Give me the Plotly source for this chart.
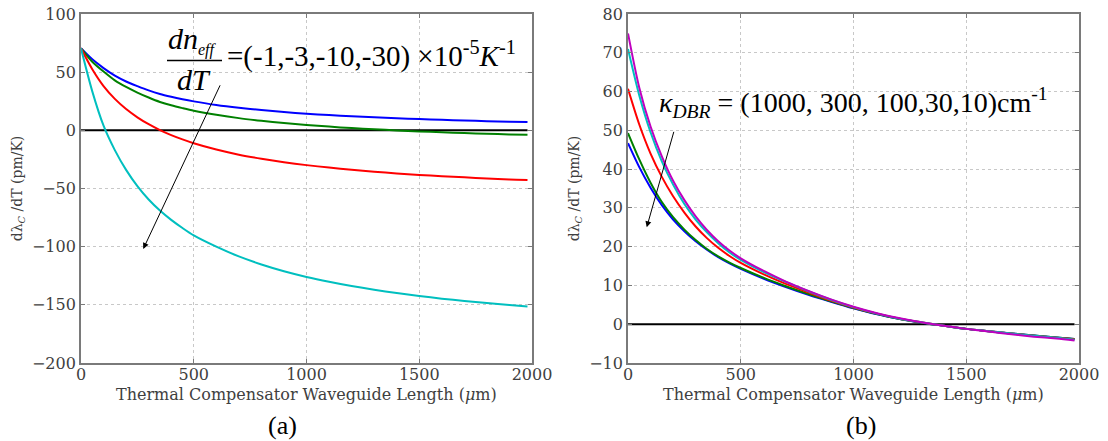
import plotly.graph_objects as go

# the page's default body margin is removed (see post_script), so figure pixels = window pixels
OFF = 0
W, H = 1108, 441

# ---------------- data: panel (a) ----------------
L_a = [0, 50, 100, 150, 200, 250, 300, 350, 400, 450, 500, 600, 700, 800, 900, 1000,
       1100, 1200, 1300, 1400, 1500, 1600, 1700, 1800, 1900, 1980]
a_blue = [70.5, 61, 53.5, 47, 42, 38, 34.3, 31.2, 28.8, 26.7, 24.9, 21.8, 19.4, 17.4, 15.75, 14.3,
          13.1, 12.1, 11.2, 10.4, 9.7, 9.0, 8.45, 7.9, 7.45, 7.1]
a_green = [70.5, 59, 50.5, 43, 37.3, 32.5, 28.2, 24.4, 21.5, 19.1, 16.9, 13.4, 10.5, 8.2, 6.2, 4.6,
           3.2, 1.9, 0.9, -0.07, -0.9, -1.7, -2.35, -2.95, -3.5, -3.9]
a_red = [70.5, 52.5, 38, 27, 18.3, 11.2, 5.25, 0.2, -4.1, -7.8, -11.1, -16.5, -20.9, -24.4, -27.4, -29.9,
         -32, -33.9, -35.5, -37, -38.3, -39.4, -40.4, -41.4, -42.2, -42.6]
a_cyan = [70.5, 33.5, 4, -17, -34, -48, -59.5, -69, -77, -84, -90.3, -100, -108.4, -115.3, -121.1, -126,
          -130.2, -133.9, -137.1, -139.9, -142.4, -144.7, -146.7, -148.5, -150.1, -151.4]

# ---------------- data: panel (b) ----------------
L_b = [0, 50, 100, 150, 200, 250, 300, 350, 400, 450, 500, 600, 700, 800, 900, 1000,
       1100, 1200, 1300, 1400, 1500, 1600, 1700, 1800, 1900, 1980]
b_blue = [46.7, 40.5, 35.2, 30.7, 27, 24, 21.4, 19.2, 17.3, 15.7, 14.3, 11.8, 9.6, 7.6, 5.8, 4.1,
          2.6, 1.4, 0.4, -0.4, -1.2, -1.8, -2.4, -2.9, -3.4, -3.8]
b_green = [49.3, 42.5, 36.5, 31.5, 27.6, 24.4, 21.7, 19.4, 17.5, 15.9, 14.5, 12.0, 9.8, 7.8, 5.9, 4.2,
           2.7, 1.4, 0.4, -0.4, -1.2, -1.8, -2.4, -2.9, -3.4, -3.8]
b_red = [60.7, 51.5, 44, 38, 33, 28.8, 25.2, 22.2, 19.7, 17.6, 15.8, 12.9, 10.4, 8.2, 6.1, 4.3,
         2.8, 1.5, 0.5, -0.4, -1.2, -1.8, -2.4, -3.0, -3.5, -3.9]
b_cyan = [71, 59, 49.5, 42, 36, 31, 27, 23.7, 20.9, 18.5, 16.6, 13.5, 10.9, 8.5, 6.3, 4.4,
          2.8, 1.5, 0.5, -0.4, -1.2, -1.8, -2.4, -3.0, -3.5, -4.0]
b_magenta = [75, 61, 51, 43.3, 37, 32, 27.8, 24.3, 21.4, 19, 17, 13.8, 11.0, 8.6, 6.4, 4.5,
             2.9, 1.6, 0.5, -0.4, -1.2, -1.9, -2.6, -3.2, -3.7, -4.2]

zero_x = [0, 1980]
zero_y = [0, 0]

x_ticks = [0, 500, 1000, 1500, 2000]
ya_ticks = [-200, -150, -100, -50, 0, 50, 100]
yb_ticks = [-10, 0, 10, 20, 30, 40, 50, 60, 70, 80]

# ---------------- figure ----------------
def px(x):
    return (x - OFF) / W

def py(y):
    return 1 - (y - OFF) / H

fig = go.Figure()

LW = 2
def add(xs, ys, color, xa, ya):
    fig.add_trace(go.Scatter(x=xs, y=ys, mode="lines", xaxis=xa, yaxis=ya,
                             line=dict(color=color, width=LW, shape="spline", smoothing=0.8),
                             showlegend=False, hoverinfo="skip"))

add(zero_x, zero_y, "black", "x", "y")
add(L_a, a_blue, "#0000ff", "x", "y")
add(L_a, a_green, "#008000", "x", "y")
add(L_a, a_red, "#ff0000", "x", "y")
add(L_a, a_cyan, "#00bfbf", "x", "y")

add(zero_x, zero_y, "black", "x2", "y2")
add(L_b, b_blue, "#0000ff", "x2", "y2")
add(L_b, b_green, "#008000", "x2", "y2")
add(L_b, b_red, "#ff0000", "x2", "y2")
add(L_b, b_cyan, "#00bfbf", "x2", "y2")
add(L_b, b_magenta, "#bf00bf", "x2", "y2")

TICKFAM = "DejaVu Serif, serif"
TXT = "#404040"
tick_font = dict(family=TICKFAM, size=16, color=TXT)
xtitle_font = dict(family=TICKFAM, size=16, color=TXT)
ytitle_font = dict(family=TICKFAM, size=14, color=TXT)
axis_common = dict(showline=True, linecolor="#7a7a7a", linewidth=1.8, mirror="allticks",
                   ticks="inside", ticklen=4, tickcolor="#7a7a7a", tickwidth=1,
                   showgrid=True, gridcolor="#c8c8c8", griddash="dot", gridwidth=1,
                   zeroline=False, tickfont=tick_font, automargin=False,
                   ticklabeloverflow="allow")

xtitle = "Thermal Compensator Waveguide Length (<i>μ</i>m)"
ytitle = "dλ<sub><i>C</i></sub> /dT (pm/K)"

fig.update_layout(
    width=W, height=H, autosize=False,
    margin=dict(l=0, r=0, t=0, b=0, pad=0),
    paper_bgcolor="white", plot_bgcolor="white",
    xaxis=dict(domain=[px(81), px(532)], range=[0, 2000], tickvals=x_ticks, anchor="y",
               ticklabelstandoff=-4, **axis_common),
    yaxis=dict(domain=[py(363), py(14)], range=[-200, 100], tickvals=ya_ticks, anchor="x",
               title=dict(text=ytitle, font=ytitle_font, standoff=6), **axis_common),
    xaxis2=dict(domain=[px(628), px(1079)], range=[0, 2000], tickvals=x_ticks, anchor="y2",
                ticklabelstandoff=-4, **axis_common),
    yaxis2=dict(domain=[py(363), py(14)], range=[-10, 80], tickvals=yb_ticks, anchor="x2",
                title=dict(text=ytitle, font=ytitle_font, standoff=6), **axis_common),
)

SERIF = "Liberation Serif, Times New Roman, serif"
ann = []
# x-axis titles
for cx in (306.5, 853.5):
    ann.append(dict(text=xtitle, x=px(cx), y=py(394), xref="paper", yref="paper", showarrow=False,
                    font=xtitle_font, xanchor="center", yanchor="middle"))
# panel labels
ann.append(dict(text="(a)", x=px(282), y=py(425), xref="paper", yref="paper", showarrow=False,
                font=dict(family=SERIF, size=26, color="black"), xanchor="center", yanchor="middle"))
ann.append(dict(text="(b)", x=px(861), y=py(425), xref="paper", yref="paper", showarrow=False,
                font=dict(family=SERIF, size=26, color="black"), xanchor="center", yanchor="middle"))

# panel (a) formula
ann.append(dict(text="<i>dn</i><sub><i><span style='font-size:16px'>eff</span></i></sub>",
                x=px(166), y=py(41), xref="paper", yref="paper",
                showarrow=False, font=dict(family=SERIF, size=30, color="black"),
                xanchor="left", yanchor="middle"))
ann.append(dict(text="<i>dT</i>", x=px(175), y=py(79), xref="paper", yref="paper",
                showarrow=False, font=dict(family=SERIF, size=30, color="black"),
                xanchor="left", yanchor="middle"))
ann.append(dict(text="=(-1,-3,-10,-30) ×10<sup>-5</sup><i>K</i><sup>-1</sup>", x=px(225), y=py(54),
                xref="paper", yref="paper", showarrow=False,
                font=dict(family=SERIF, size=29, color="black"), xanchor="left", yanchor="middle"))
# panel (b) formula
ann.append(dict(text="<i>κ</i><sub><i>DBR</i></sub> = (1000, 300, 100,30,10)cm<sup>-1</sup>",
                x=px(657), y=py(103), xref="paper", yref="paper", showarrow=False,
                font=dict(family=SERIF, size=28, color="black"), xanchor="left", yanchor="middle"))

# arrows
ann.append(dict(text="", x=276, y=-102, ax=620, ay=40, xref="x", yref="y", axref="x", ayref="y",
                showarrow=True, arrowhead=2, arrowsize=1.2, arrowwidth=1, arrowcolor="black", standoff=0))
ann.append(dict(text="", x=83, y=25, ax=205, ay=50, xref="x2", yref="y2", axref="x2", ayref="y2",
                showarrow=True, arrowhead=2, arrowsize=1.2, arrowwidth=1, arrowcolor="black", standoff=0))

fig.update_layout(annotations=ann)
fig.add_shape(type="line", xref="paper", yref="paper", x0=px(167), x1=px(222), y0=py(60.5), y1=py(60.5),
              line=dict(color="black", width=1.5))

fig.write_html("out.html",
               config={"displayModeBar": False},
               post_script="document.body.style.margin='0px';document.body.style.overflow='hidden';")
